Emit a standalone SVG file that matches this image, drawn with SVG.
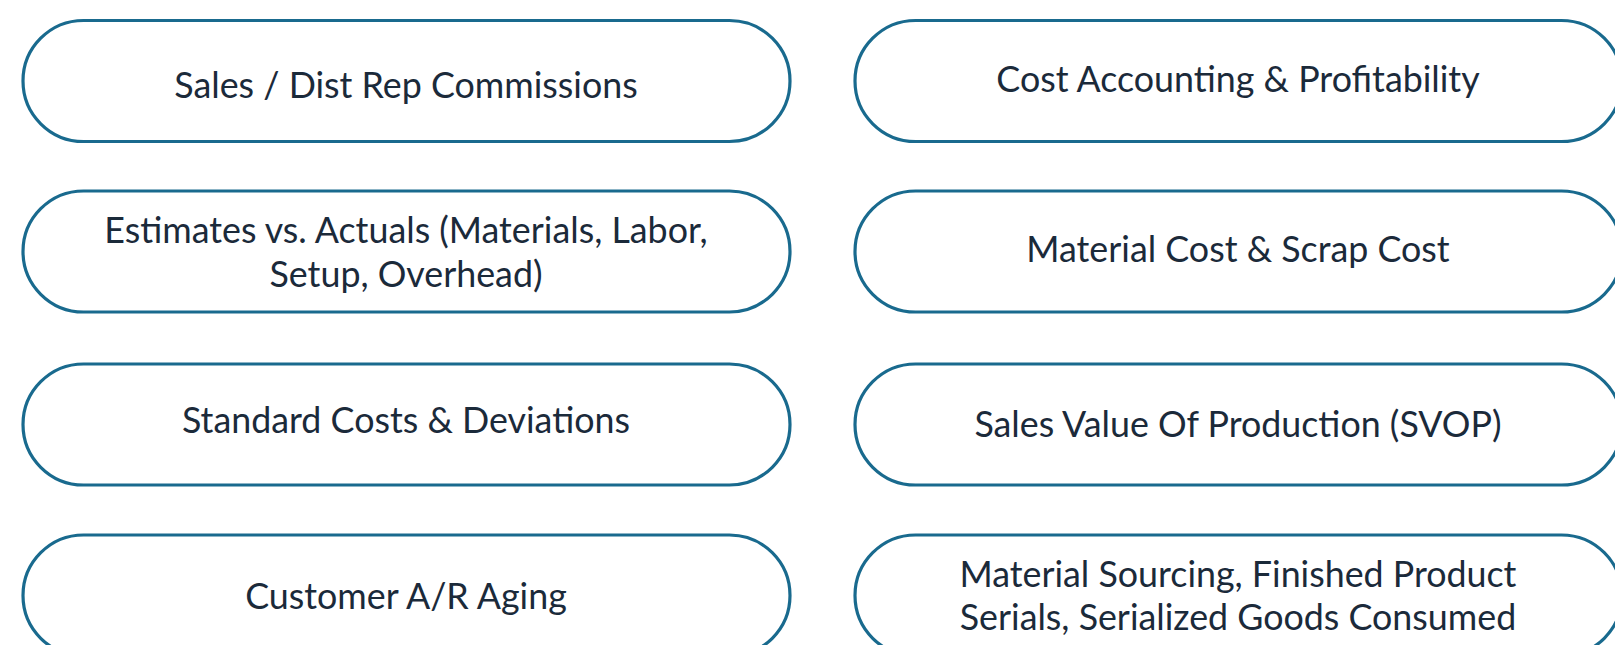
<svg xmlns="http://www.w3.org/2000/svg" width="1615" height="645" viewBox="0 0 1615 645">
<style>
.box{fill:#ffffff;stroke:#196a8e;stroke-width:3.2}
.t{font-family:Lato,"Liberation Sans",sans-serif;font-size:35.8px;fill:#1b2a3a;text-anchor:middle}
</style>
<rect width="1615" height="645" fill="#ffffff"/>
<g id="connectors"></g>
<g id="n1"><rect class="box" x="23" y="20.5" width="767" height="121" rx="60.5"/><text class="t" x="406" y="97.5">Sales / Dist Rep Commissions</text></g>
<g id="n2"><rect class="box" x="855" y="20.5" width="767" height="121" rx="60.5"/><text class="t" x="1238" y="91.5">Cost Accounting &amp; Profitability</text></g>
<g id="n3"><rect class="box" x="23" y="191" width="767" height="121" rx="60.5"/><text class="t" x="406" y="242.5">Estimates vs. Actuals (Materials, Labor,</text><text class="t" x="406" y="286.5">Setup, Overhead)</text></g>
<g id="n4"><rect class="box" x="855" y="191" width="767" height="121" rx="60.5"/><text class="t" x="1238" y="261.5">Material Cost &amp; Scrap Cost</text></g>
<g id="n5"><rect class="box" x="23" y="364" width="767" height="121" rx="60.5"/><text class="t" x="406" y="432.5">Standard Costs &amp; Deviations</text></g>
<g id="n6"><rect class="box" x="855" y="364" width="767" height="121" rx="60.5"/><text class="t" x="1238" y="436.5">Sales Value Of Production (SVOP)</text></g>
<g id="n7"><rect class="box" x="23" y="535" width="767" height="121" rx="60.5"/><text class="t" x="406" y="608.5">Customer A/R Aging</text></g>
<g id="n8"><rect class="box" x="855" y="535" width="767" height="121" rx="60.5"/><text class="t" x="1238" y="586.5">Material Sourcing, Finished Product</text><text class="t" x="1238" y="629.5">Serials, Serialized Goods Consumed</text></g>
</svg>
